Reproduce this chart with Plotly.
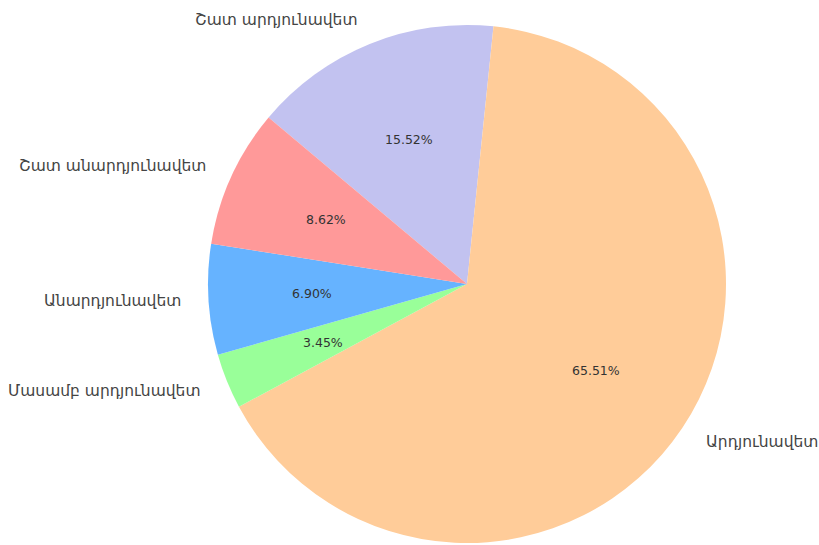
import math
import plotly.graph_objects as go

# Data (matplotlib-style order, counterclockwise from start angle)
labels = ["Շատ անարդյունավետ", "Անարդյունավետ", "Մասամբ արդյունավետ", "Արդյունավետ", "Շատ արդյունավետ"]
values = [8.62, 6.90, 3.45, 65.51, 15.52]
colors = ["#ff9999", "#66b3ff", "#99ff99", "#ffcc99", "#c2c2f0"]
start_angle = 140  # degrees, counterclockwise from +x

# Layout geometry (pixels)
W, H = 819, 545
CX, CY, R = 467, 284, 259

# Plotly draws clockwise; reverse order so visual order matches
trace_labels = labels[::-1]
trace_values = values[::-1]
trace_colors = colors[::-1]

fig = go.Figure(go.Pie(
    labels=trace_labels,
    values=trace_values,
    marker=dict(colors=trace_colors, line=dict(width=0)),
    sort=False,
    direction="clockwise",
    rotation=90 - start_angle,
    textinfo="none",
    hoverinfo="label+percent",
    showlegend=False,
    domain=dict(x=[(CX - R) / W, (CX + R) / W],
                y=[(H - CY - R) / H, (H - CY + R) / H]),
))

total = sum(values)
annotations = []
acc = 0.0
for lab, v in zip(labels, values):
    mid = math.radians(start_angle + (acc + v / 2) / total * 360)
    acc += v
    c, s = math.cos(mid), math.sin(mid)
    # outer label
    lx = (CX + 1.1 * R * c) / W
    ly = (H - CY + 1.1 * R * s) / H
    annotations.append(dict(
        x=lx, y=ly, xref="paper", yref="paper", text=lab, showarrow=False,
        xanchor="left" if c > 0 else "right", yanchor="middle",
        font=dict(family="DejaVu Sans", size=15.5, color="#444444"),
    ))
    # percent label
    px = (CX + 0.6 * R * c) / W
    py = (H - CY + 0.6 * R * s) / H
    annotations.append(dict(
        x=px, y=py, xref="paper", yref="paper", text=f"{v / total * 100:.2f}%",
        showarrow=False, xanchor="center", yanchor="middle",
        font=dict(family="DejaVu Sans", size=12.5, color="#333333"),
    ))

fig.update_layout(
    width=W, height=H,
    margin=dict(l=0, r=0, t=0, b=0),
    paper_bgcolor="white", plot_bgcolor="white",
    annotations=annotations,
)

fig.write_html("out.html",
               config={"displayModeBar": False},
               post_script="document.body.style.margin='0';document.body.style.overflow='hidden';")
